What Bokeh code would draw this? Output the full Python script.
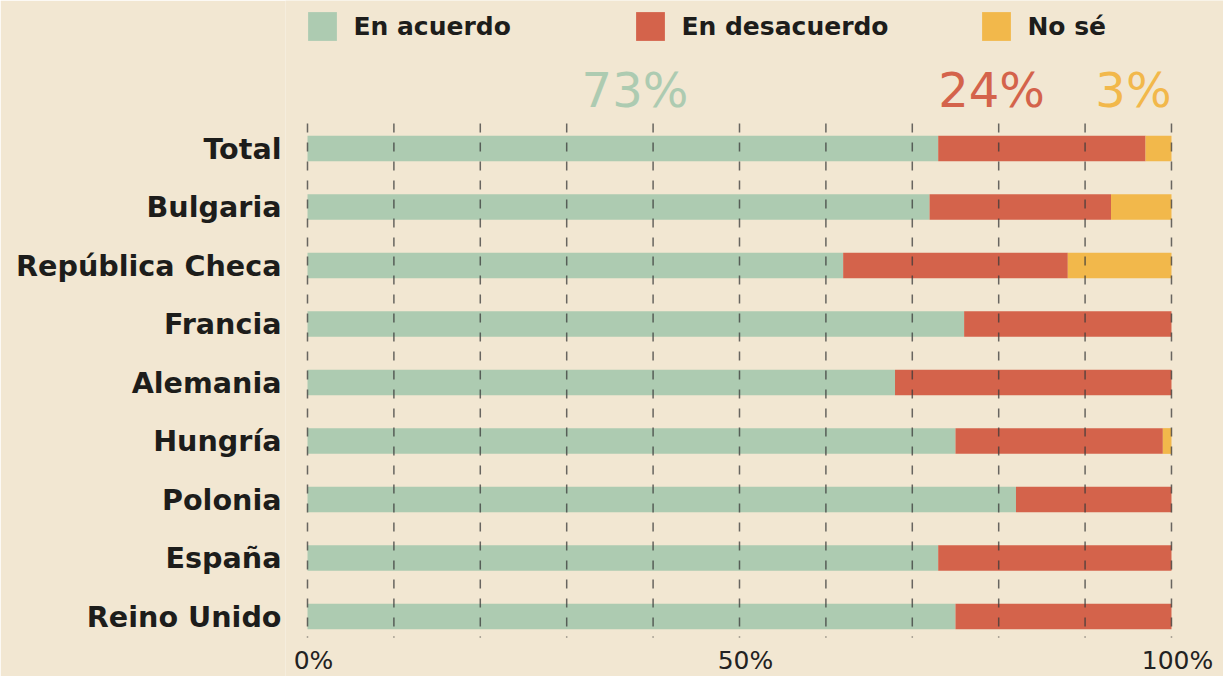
from bokeh.plotting import figure
from bokeh.models import (ColumnDataSource, Range1d, FixedTicker, Legend, LegendItem)
from bokeh.core.properties import value
from bokeh.embed import file_html
from bokeh.resources import INLINE

# ---- data ----
countries = ["Total", "Bulgaria", "República Checa", "Francia", "Alemania",
             "Hungría", "Polonia", "España", "Reino Unido"]
agree = [73, 72, 62, 76, 68, 75, 82, 73, 75]
disagree = [24, 21, 26, 24, 32, 24, 18, 27, 25]
dont_know = [3, 7, 12, 0, 0, 1, 0, 0, 0]
series_labels = ["En acuerdo", "En desacuerdo", "No sé"]
x_ticks = [0, 10, 20, 30, 40, 50, 60, 70, 80, 90, 100]
x_tick_labels = ["0%", "50%", "100%"]
x_labeled_ticks = [0, 50, 100]

# ---- style ----
BG = "#f2e7d2"
GREEN = "#adcbb1"
RED = "#d4634b"
YELLOW = "#f2b84b"
INK = "#1d1d1b"
FONT = "DejaVu Sans"

n = len(countries)
ypos = [n - 1 - i for i in range(n)]

src = ColumnDataSource(dict(y=ypos, agree=agree, disagree=disagree,
                            dk=dont_know, name=countries))

p = figure(width=1223, height=676, output_backend="svg", toolbar_location=None,
           x_range=Range1d(-2.546, 106.02), y_range=Range1d(-1.0256, 10.530),
           x_axis_location=None, min_border_left=285, min_border_right=0,
           min_border_top=0, min_border_bottom=0)
p.background_fill_color = BG
p.border_fill_color = BG
p.outline_line_color = None
p.xgrid.visible = False
p.ygrid.visible = False

renderers = p.hbar_stack(["agree", "disagree", "dk"], y="y", height=0.44,
                         color=[GREEN, RED, YELLOW], line_color=None, source=src)

# dashed gridlines drawn on top of bars
p.segment(x0=x_ticks, x1=x_ticks, y0=[8.427] * len(x_ticks), y1=[-0.359] * len(x_ticks),
          line_color="#3a3a3a", line_alpha=0.75, line_width=1.5, line_dash="9 10",
          level="overlay")

# y axis with country names
ax = p.yaxis[0]
ax.ticker = FixedTicker(ticks=ypos)
ax.major_label_overrides = {y: c for y, c in zip(ypos, countries)}
ax.axis_line_color = None
ax.major_tick_line_color = None
ax.minor_tick_line_color = None
ax.major_label_standoff = -2
ax.major_label_text_font = FONT
ax.major_label_text_font_style = "bold"
ax.major_label_text_font_size = "28.6px"
ax.major_label_text_color = INK

# x tick labels
p.text(x=x_labeled_ticks, y=[-0.496] * 3, text=x_tick_labels, x_offset=6,
       text_font=value(FONT), text_font_size="25px", text_color="#222222",
       text_align="center", text_baseline="top")

# summary labels from Total row
SUM_Y = 9.0
p.text(x=[37.9], y=[SUM_Y], text=[f"{agree[0]}%"], text_font=value(FONT),
       text_font_size="48px", text_color=GREEN, text_align="center", text_baseline="middle")
p.text(x=[agree[0]], y=[SUM_Y], text=[f"{disagree[0]}%"], text_font=value(FONT),
       text_font_size="48px", text_color=RED, text_align="left", text_baseline="middle")
p.text(x=[100], y=[SUM_Y], text=[f"{dont_know[0]}%"], text_font=value(FONT),
       text_font_size="48px", text_color=YELLOW, text_align="right", text_baseline="middle")

# legends
legend_x = [19.4, 347.4, 693.4]
for r, lab, lx in zip(renderers, series_labels, legend_x):
    lg = Legend(items=[LegendItem(label=lab, renderers=[r])], location=(lx, 631.6),
                orientation="horizontal", glyph_width=36, glyph_height=36,
                label_standoff=13, padding=0, margin=0, spacing=0,
                border_line_color=None, background_fill_alpha=0,
                label_text_font=FONT, label_text_font_style="bold",
                label_text_font_size="25px", label_text_color=INK)
    p.add_layout(lg, "center")

open("out.html", "w").write(file_html(p, INLINE))
